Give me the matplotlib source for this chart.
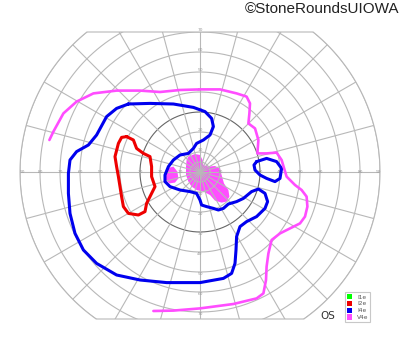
import numpy as np
import matplotlib
matplotlib.use("Agg")
import matplotlib.pyplot as plt
from matplotlib.patches import Polygon, Patch

# isopters, in degrees of visual field (x = horizontal, y = vertical)
i4e_x = [-35.8, -25, -13.3, -3.3, 2.5, 5.8, 6.7, 5, 1.7, -1.7, -3.3, -5.8, -10, -13.3, -15.8,
         -17.5, -17.5, -15, -10, -5, -1.7, 0, 0.8, 3.3, 6.7, 9.2, 11.7, 14.2, 18.3, 21.7, 25.8,
         29.2, 32.5, 33.8, 32.5, 28.3, 23.3, 20, 18.3, 18, 17.5, 15.8, 11.7, 0, -16.7, -30,
         -41.7, -51.7, -58.3, -62.5, -65, -65.8, -65.8, -65, -61.7, -55.8, -51.7, -46.7, -41.7]
i4e_y = [34, 34.3, 34, 32.3, 30.2, 26.8, 22.7, 18.5, 16, 14.3, 11.8, 9.3, 8.5, 6, 2.7,
         -1.5, -4.8, -7.3, -9, -9.8, -10.7, -14, -16.5, -17.3, -18.2, -19, -18.2, -16, -14.8, -13.2, -9.8,
         -8.5, -10.7, -14.8, -18.2, -22.3, -24.8, -27.3, -32.3, -39, -45.7, -50.7, -53.2, -55.3, -55.3, -54,
         -51.5, -45.7, -39, -30.7, -20.7, -10.7, -0.7, 6, 10.2, 13.5, 18.5, 27.7, 31.8]

i4e_island_x = [28.3, 33.3, 38.3, 40.8, 40, 37.5, 33.3, 30, 27.5, 27]
i4e_island_y = [5.2, 6.8, 5.2, 1.8, -3.2, -4.8, -3.2, -1.5, 1, 3.5]

i2e_x = [-36.7, -33.3, -31.7, -28.3, -25, -24.2, -24.2, -22.5, -25, -26.7, -27.5, -30.8,
         -35.8, -38.3, -39.2, -40, -40.8, -41.7, -42.5, -40.8, -39.2]
i2e_y = [17.7, 16, 11.8, 9.3, 7.7, 2.7, -2.3, -7.3, -12.3, -15.7, -19.8, -21.5,
         -20.7, -17.3, -12.3, -7.3, -2.3, 2.7, 7.7, 14.3, 17.3]

v4e_x = [-75.3, -73.3, -68.3, -61.7, -53.3, -41.7, -30, -20, -10, 0, 10, 18.3, 23.3, 25, 24.7,
         24.2, 27.5, 29.2, 28.7, 33.3, 38.3, 40.8, 43.3, 47.5, 50.8, 53.3, 53.7, 52.5, 50, 45,
         40, 35.8, 34.2, 33.3, 33, 31.7, 28.3, 16.7, 0, -13.3, -23.3]
v4e_y = [16, 20.2, 29.3, 35.2, 39.3, 40.7, 40.7, 40, 41, 41.3, 41.3, 39.3, 37.7, 34.3, 29.3,
         24.3, 21.8, 16, 9.3, 9.3, 9.7, 6, -2.3, -6.5, -9, -12.3, -17.3, -22.3, -25.7, -28.2,
         -30.7, -34, -40.7, -47.3, -54, -60.7, -63.2, -66, -68.2, -69.3, -69.5]

# central V4e areas (filled)
blob_x = [-5.8, -2.5, 0, 1.3, 1.7, 4.2, 7.5, 10, 10.8, 12, 14.2, 14.7, 13.3, 10.8, 7.5, 5,
          1.7, -1.7, -4.2, -5.8, -7, -7, -6.7]
blob_y = [7.7, 9, 8.5, 6, 3.5, 2.7, 3, 1.8, -1.5, -5.7, -9, -12.3, -14.8, -15.3, -14.3, -11.5,
          -9.8, -9, -7.3, -4.8, -1.5, 2.7, 6]
spot_x = [-16.7, -13.3, -11.3, -10.8, -12.5, -15.3, -17, -17.5]
spot_y = [1.8, 2.7, 0.2, -3.2, -5.3, -5.7, -4, -0.7]

rings = [5, 10, 20, 30, 40, 50, 60, 70, 80, 90]
h_labels = [10, 20, 30, 40, 50, 60, 70, 80, 90]
v_labels = [10, 20, 30, 40, 50, 60, 70]
legend_names = ["I1e", "I2e", "I4e", "V4e"]
legend_colors = ["#00ff00", "#ee0000", "#0000ee", "#ff4dff"]

top_cut = 70
bottom_cut = 73.5
grid_col = "#b8b8b8"

fig = plt.figure(figsize=(4, 3.52), dpi=100)
ax = fig.add_axes([0, 0, 1, 1])
ax.set_xlim(-100, 100)
ax.set_ylim(-90, 86)
ax.set_aspect("equal")
ax.axis("off")

# outline of the chart: circle of 90 deg, cut flat at top and bottom
tt = np.arcsin(top_cut / 90)
tb = np.arcsin(bottom_cut / 90)
right = np.linspace(-tb, tt, 100)
left = np.linspace(np.pi - tt, np.pi + tb, 100)
th = np.concatenate([right, left])
outline = np.column_stack([90 * np.cos(th), 90 * np.sin(th)])
clip = Polygon(outline, closed=True, fill=False, edgecolor=grid_col, lw=0.8, zorder=2)
ax.add_patch(clip)

# filled central areas
ax.fill(blob_x, blob_y, color="#ff4dff", lw=0, zorder=1)
ax.fill(spot_x, spot_y, color="#ff4dff", lw=0, zorder=1)

t = np.linspace(0, 2 * np.pi, 400)
for r in rings:
    col = "#666666" if r == 30 else grid_col
    ln, = ax.plot(r * np.cos(t), r * np.sin(t), color=col, lw=0.8, zorder=2)
    ln.set_clip_path(clip)
for a in range(0, 360, 15):
    ang = np.radians(a)
    ln, = ax.plot([0, 95 * np.cos(ang)], [0, 95 * np.sin(ang)], color=grid_col, lw=0.8, zorder=2)
    ln.set_clip_path(clip)

for v in h_labels:
    off = 1 if v == 90 else 0
    for s in (-1, 1):
        ax.text(s * (v - off), 0, str(v), fontsize=3.2, color="#999999",
                ha="center", va="center", zorder=3)
for v in v_labels:
    ax.text(0, v + 1.2, str(v), fontsize=3.2, color="#999999", ha="center", va="center", zorder=3)
    ax.text(0, -v - 1.2, str(v), fontsize=3.2, color="#999999", ha="center", va="center", zorder=3)

# isopters
kw = dict(lw=2.2, solid_joinstyle="round", solid_capstyle="round", zorder=4)
ax.plot(i4e_x + i4e_x[:1], i4e_y + i4e_y[:1], color="#0000ee", **kw)
ax.plot(i4e_island_x + i4e_island_x[:1], i4e_island_y + i4e_island_y[:1], color="#0000ee", **kw)
ax.plot(i2e_x + i2e_x[:1], i2e_y + i2e_y[:1], color="#ee0000", **kw)
ax.plot(v4e_x, v4e_y, color="#ff4dff", lw=1.9, solid_joinstyle="round",
        solid_capstyle="round", zorder=4)

handles = [Patch(facecolor=c, edgecolor="none", label=n) for n, c in zip(legend_names, legend_colors)]
leg = fig.legend(handles=handles, loc="lower left", bbox_to_anchor=(0.862, 0.086),
                 fontsize=4.2, handlelength=1.0, handleheight=1.0, handletextpad=0.8,
                 labelspacing=0.2, borderpad=0.3, borderaxespad=0, fancybox=False,
                 framealpha=1)
leg.get_frame().set_edgecolor("#c8c8c8")
leg.get_frame().set_linewidth(0.8)
for txt in leg.get_texts():
    txt.set_color("#555555")

fig.text(0.82, 0.102, "OS", fontsize=7.5, color="#333333", ha="center", va="center")
fig.text(0.998, 0.975, "\u00a9StoneRoundsUIOWA", fontsize=11, color="#222222",
         ha="right", va="center", family="Liberation Sans")

fig.savefig("out.png", dpi=100)
